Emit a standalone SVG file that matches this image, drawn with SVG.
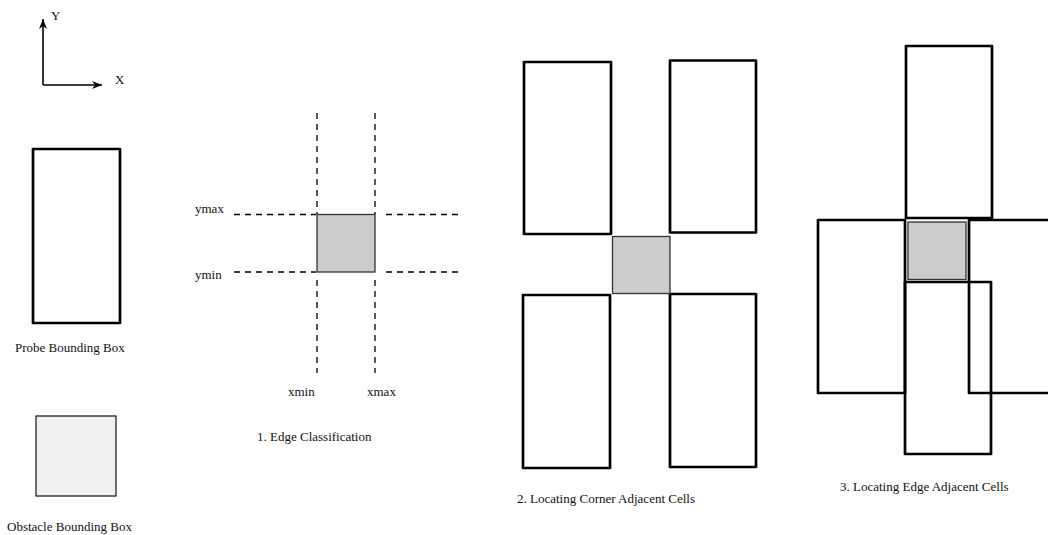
<svg xmlns="http://www.w3.org/2000/svg" width="1048" height="535" viewBox="0 0 1048 535">
  <style>
    text { font-family: "Liberation Serif", "Times New Roman", serif; font-size: 13px; fill: #111; }
    .probe { fill: #fff; stroke: #000; stroke-width: 2.7; stroke-linejoin: round; }
    .probe-open { fill: none; stroke: #000; stroke-width: 2.7; stroke-linejoin: round; }
    .obst { fill: #cccccc; stroke: #333; stroke-width: 1.3; }
    .legend-obst { fill: #f0f0f0; stroke: #222; stroke-width: 1.3; }
    .dash { stroke: #000; stroke-width: 1.3; stroke-dasharray: 6 5; fill: none; }
    .axis { stroke: #000; stroke-width: 1.6; fill: none; }
  </style>
  <defs>
    <marker id="arrow" viewBox="0 0 10 8" refX="10" refY="4" markerWidth="10" markerHeight="8" markerUnits="userSpaceOnUse" orient="auto">
      <path d="M0,0 L10,4 L0,8 L3,4 Z" fill="#000"/>
    </marker>
  </defs>

  <!-- coordinate axes -->
  <g id="axes">
    <line class="axis" x1="43" y1="85" x2="43" y2="19" marker-end="url(#arrow)"/>
    <line class="axis" x1="43" y1="85" x2="102" y2="85" marker-end="url(#arrow)"/>
    <text x="51" y="19.5" font-size="11.5">Y</text>
    <text x="115" y="84" font-size="11.5">X</text>
  </g>

  <!-- legend -->
  <g id="legend-probe">
    <rect class="probe" x="33" y="149" width="87" height="174"/>
    <text x="15" y="352">Probe Bounding Box</text>
  </g>
  <g id="legend-obstacle">
    <rect class="legend-obst" x="36" y="416" width="80" height="80"/>
    <text x="7" y="531">Obstacle Bounding Box</text>
  </g>

  <!-- 1. edge classification: extended obstacle edges -->
  <g id="connectors">
    <line class="dash" x1="317" y1="113" x2="317" y2="214"/>
    <line class="dash" x1="375" y1="113" x2="375" y2="214"/>
    <line class="dash" x1="317" y1="280" x2="317" y2="373"/>
    <line class="dash" x1="375" y1="280" x2="375" y2="373"/>
    <line class="dash" x1="234" y1="214.5" x2="316" y2="214.5"/>
    <line class="dash" x1="234" y1="272" x2="316" y2="272"/>
    <line class="dash" x1="386" y1="214.5" x2="462" y2="214.5"/>
    <line class="dash" x1="386" y1="272" x2="462" y2="272"/>
  </g>
  <g id="edge-classification">
    <rect class="obst" x="317" y="214.5" width="58" height="57.5"/>
    <text x="195" y="213">ymax</text>
    <text x="195" y="279">ymin</text>
    <text x="288" y="396">xmin</text>
    <text x="367" y="396">xmax</text>
    <text x="257" y="441">1. Edge Classification</text>
  </g>

  <!-- 2. corner adjacent cells -->
  <g id="corner-adjacent">
    <rect class="probe" x="524" y="62" width="87" height="172"/>
    <rect class="probe" x="670" y="60.5" width="86" height="172"/>
    <rect class="probe" x="523" y="295" width="87" height="173"/>
    <rect class="probe" x="670" y="294" width="86" height="173"/>
    <rect class="obst" x="612.5" y="236.5" width="57.5" height="57" stroke="#444"/>
    <text x="517" y="503">2. Locating Corner Adjacent Cells</text>
  </g>

  <!-- 3. edge adjacent cells (outlines overlap, so no fill) -->
  <g id="edge-adjacent">
    <rect class="probe-open" x="906" y="46" width="86" height="172"/>
    <rect class="probe-open" x="818" y="220" width="87" height="173"/>
    <rect class="probe-open" x="969" y="220" width="87" height="173"/>
    <rect class="probe-open" x="905" y="282" width="86" height="172"/>
    <rect class="obst" x="908" y="222" width="58" height="57.5" stroke="#444"/>
    <text x="840" y="491">3. Locating Edge Adjacent Cells</text>
  </g>
</svg>
